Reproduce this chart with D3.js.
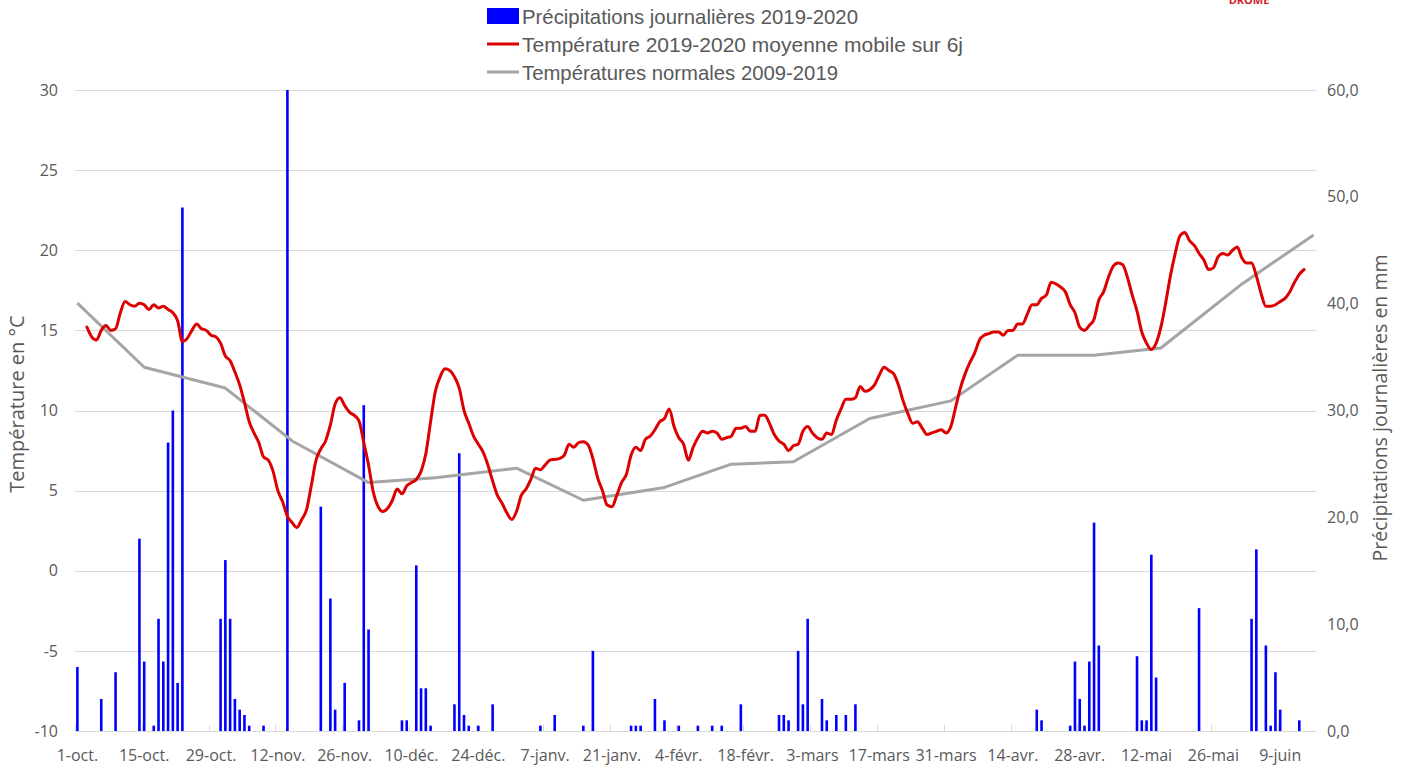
<!DOCTYPE html>
<html>
<head>
<meta charset="utf-8">
<script src="https://cdn.jsdelivr.net/npm/d3@7"></script>
<style>
  body { margin: 0; background: #ffffff; }
  svg text { font-family: "Open Sans", "DejaVu Sans", sans-serif; fill: #595959; }
</style>
</head>
<body>
<svg id="chart" width="1404" height="769"></svg>
<script>
// jours du 1-oct. 2019 au 16-juin 2020 (fin exclue)
var firstDay = "2019-10-01";
var lastDayExcl = "2020-06-17";

// précipitations journalières (mm), un tableau par mois
var rainOct = [6.0,0,0,0,0,3.0,0,0,5.5,0, 0,0,0,18.0,6.5,0,0.5,10.5,6.5,27.0, 30.0,4.5,49.0,0,0,0,0,0,0,0, 10.5];
var rainNov = [16.0,10.5,3.0,2.0,1.5,0.5,0,0,0.5,0, 0,0,0,60.0,0,0,0,0,0,0, 21.0,0,12.4,2.0,0,4.5,0,0,1.0,30.5];
var rainDec = [9.5,0,0,0,0,0,0,1.0,1.0,0, 15.5,4.0,4.0,0.5,0,0,0,0,2.5,26.0, 1.5,0.5,0,0.5,0,0,2.5,0,0,0, 0];
var rainJan = [0,0,0,0,0,0.5,0,0,1.5,0, 0,0,0,0,0.5,0,7.5,0,0,0, 0,0,0,0,0.5,0.5,0.5,0,0,3.0, 0];
var rainFeb = [1.0,0,0,0.5,0,0,0,0.5,0,0, 0.5,0,0.5,0,0,0,2.5,0,0,0, 0,0,0,0,1.5,1.5,1.0,0,7.5];
var rainMar = [2.5,10.5,0,0,3.0,1.0,0,1.5,0,1.5, 0,2.5,0,0,0,0,0,0,0,0, 0,0,0,0,0,0,0,0,0,0, 0];
var rainApr = [0,0,0,0,0,0,0,0,0,0, 0,0,0,0,0,0,0,0,2.0,1.0, 0,0,0,0,0,0.5,6.5,3.0,0.5,6.5];
var rainMay = [19.5,8.0,0,0,0,0,0,0,0,7.0, 1.0,1.0,16.5,5.0,0,0,0,0,0,0, 0,0,11.5,0,0,0,0,0,0,0, 0];
var rainJun = [0,0,10.5,17.0,0,8.0,0.5,5.5,2.0,0, 0,0,1.0,0,0,0];

// température 2019-2020, moyenne mobile sur 6 jours (°C)
var tempOct = [null,null,15.2,14.6,14.4,15.0,15.3,15.0,15.1,16.1, 16.8,16.6,16.5,16.7,16.6,16.3,16.6,16.4,16.5,16.3, 16.1,15.6,14.3,14.5,15.0,15.4,15.1,15.0,14.7,14.6, 14.2];
var tempNov = [13.4,13.1,12.4,11.6,10.5,9.3,8.6,8.0,7.1,6.9, 6.2,5.0,4.3,3.4,3.0,2.7,3.2,3.8,5.3,6.9, 7.6,8.1,9.1,10.4,10.8,10.3,9.9,9.7,9.35,8.0];
var tempDec = [6.6,4.9,4.0,3.7,3.9,4.4,5.1,4.8,5.3,5.5, 5.7,6.2,7.3,9.3,11.2,12.1,12.6,12.5,12.1,11.4, 10.0,9.2,8.4,7.9,7.4,6.6,5.6,4.7,4.2,3.6, 3.2];
var tempJan = [3.7,4.7,5.1,5.7,6.4,6.3,6.6,6.9,6.95,7.0, 7.2,7.9,7.7,8.0,8.05,7.85,7.0,5.8,5.0,4.1, 4.0,4.7,5.5,6.0,7.2,7.7,7.5,8.2,8.4,8.8, 9.3];
var tempFeb = [9.5,10.1,9.0,8.3,7.9,6.9,7.7,8.3,8.7,8.6, 8.7,8.6,8.2,8.3,8.4,8.9,8.9,9.0,8.7,8.7, 9.7,9.7,9.2,8.5,8.1,7.9,7.5,7.8,7.9];
var tempMar = [8.7,9.0,8.6,8.3,8.2,8.6,8.5,9.4,10.1,10.7, 10.7,10.8,11.5,11.2,11.3,11.6,12.2,12.7,12.5,12.3, 11.6,10.6,9.8,9.2,9.3,8.9,8.5,8.6,8.7,8.8, 8.6];
var tempApr = [9.0,10.2,11.4,12.3,13.0,13.6,14.4,14.7,14.8,14.9, 14.9,14.7,15.0,15.0,15.4,15.4,16.0,16.6,16.6,17.0, 17.2,18.0,17.9,17.7,17.4,16.6,16.1,15.2,15.0,15.3];
var tempMay = [15.7,16.9,17.4,18.3,19.0,19.2,19.1,18.3,17.2,16.2, 14.9,14.2,13.8,14.2,15.2,16.7,18.4,19.8,20.9,21.1, 20.6,20.3,19.8,19.4,18.8,18.9,19.6,19.8,19.7,20.0, 20.2];
var tempJun = [19.5,19.2,19.2,18.4,17.3,16.5,16.5,16.6,16.8,17.0, 17.4,18.0,18.5,18.8,null,null];

// températures normales 2009-2019 (°C)
var normalDates = ["2019-10-01","2019-10-15","2019-11-01","2019-11-15","2019-12-01","2019-12-15",
                   "2020-01-01","2020-01-15","2020-02-01","2020-02-15","2020-02-28","2020-03-15",
                   "2020-04-01","2020-04-15","2020-05-01","2020-05-15","2020-06-01","2020-06-16"];
var normalValues = [16.7,12.7,11.4,8.1,5.5,5.8, 6.4,4.4,5.2,6.65,6.8,9.5, 10.6,13.45,13.45,13.9,17.9,20.95];

var tickLabels = ["1-oct.","15-oct.","29-oct.","12-nov.","26-nov.","10-déc.","24-déc.","7-janv.",
                  "21-janv.","4-févr.","18-févr.","3-mars","17-mars","31-mars","14-avr.","28-avr.",
                  "12-mai","26-mai","9-juin"];
var tempTicks = [-10, -5, 0, 5, 10, 15, 20, 25, 30];
var rainTicks = [0, 10, 20, 30, 40, 50, 60];

var legendLabels = ["Précipitations journalières 2019-2020",
                    "Température 2019-2020 moyenne mobile sur 6j",
                    "Températures normales 2009-2019"];

var parseDay = d3.timeParse("%Y-%m-%d");
var days = d3.timeDay.range(parseDay(firstDay), parseDay(lastDayExcl));
var rain = [].concat(rainOct, rainNov, rainDec, rainJan, rainFeb, rainMar, rainApr, rainMay, rainJun);
var temp = [].concat(tempOct, tempNov, tempDec, tempJan, tempFeb, tempMar, tempApr, tempMay, tempJun);

var plotLeft = 75, plotRight = 1316, plotTop = 90, plotBottom = 731;

var svg = d3.select("#chart");

var x = d3.scaleBand()
    .domain(days)
    .range([plotLeft, plotRight])
    .paddingInner(0).paddingOuter(0);
var bw = x.bandwidth();
var xc = function(d) { return x(d) + bw / 2; };

var yTemp = d3.scaleLinear().domain([-10, 30]).range([plotBottom, plotTop]);
var yRain = d3.scaleLinear().domain([0, 60]).range([plotBottom, plotTop]);

// grille
svg.append("g")
    .attr("class", "grid")
    .selectAll("line")
    .data(tempTicks)
    .enter().append("line")
    .attr("x1", plotLeft)
    .attr("x2", plotRight)
    .attr("y1", function(d) { return Math.round(yTemp(d)) + 0.5; })
    .attr("y2", function(d) { return Math.round(yTemp(d)) + 0.5; })
    .style("stroke", "#d9d9d9")
    .style("stroke-width", "1px");

// petites graduations de l'axe des dates
svg.append("g")
    .selectAll("line")
    .data(tickLabels)
    .enter().append("line")
    .attr("x1", function(d, i) { return Math.round(x(days[i * 14])) + 0.5; })
    .attr("x2", function(d, i) { return Math.round(x(days[i * 14])) + 0.5; })
    .attr("y1", plotBottom - 6)
    .attr("y2", plotBottom)
    .style("stroke", "#d9d9d9")
    .style("stroke-width", "1px");

// barres de précipitations
var barW = 2.6;
svg.append("g")
    .attr("class", "bars")
    .selectAll("rect")
    .data(days.map(function(d, i) { return {day: d, value: rain[i]}; })
               .filter(function(d) { return d.value > 0; }))
    .enter().append("rect")
    .attr("x", function(d) { return xc(d.day) - barW / 2; })
    .attr("width", barW)
    .attr("y", function(d) { return yRain(Math.min(d.value, 60)); })
    .attr("height", function(d) { return plotBottom - yRain(Math.min(d.value, 60)); })
    .attr("fill", "#0000ff");

// normales
var normals = normalDates.map(function(s, i) { return {day: parseDay(s), value: normalValues[i]}; });
var normalLine = d3.line()
    .x(function(d) { return xc(d.day); })
    .y(function(d) { return yTemp(d.value); });
svg.append("path")
    .datum(normals)
    .attr("d", normalLine)
    .attr("fill", "none")
    .style("stroke", "#a5a5a5")
    .style("stroke-width", "3px")
    .style("stroke-linejoin", "round");

// température moyenne mobile
var tempLine = d3.line()
    .defined(function(d) { return d.value != null; })
    .x(function(d) { return xc(d.day); })
    .y(function(d) { return yTemp(d.value); })
    .curve(d3.curveMonotoneX);
svg.append("path")
    .datum(days.map(function(d, i) { return {day: d, value: temp[i]}; }))
    .attr("d", tempLine)
    .attr("fill", "none")
    .style("stroke", "#dc0000")
    .style("stroke-width", "3px")
    .style("stroke-linejoin", "round")
    .style("stroke-linecap", "round");

// ligne de base
svg.append("line")
    .attr("x1", plotLeft).attr("x2", plotRight)
    .attr("y1", plotBottom + 0.5).attr("y2", plotBottom + 0.5)
    .style("stroke", "#d9d9d9");

// axes
var axisLeft = d3.axisLeft(yTemp).tickValues(tempTicks).tickSize(0).tickPadding(17)
    .tickFormat(function(d) { return String(d); });
var gl = svg.append("g").attr("transform", "translate(" + plotLeft + ",0)").call(axisLeft);
gl.select(".domain").remove();
gl.attr("font-family", null);
gl.selectAll("text").style("font-size", "16px").style("fill", "#595959");

var axisRight = d3.axisRight(yRain).tickValues(rainTicks).tickSize(0).tickPadding(11)
    .tickFormat(function(d) { return d3.format(".1f")(d).replace(".", ","); });
var gr = svg.append("g").attr("transform", "translate(" + plotRight + ",0)").call(axisRight);
gr.select(".domain").remove();
gr.attr("font-family", null);
gr.selectAll("text").style("font-size", "16px").style("fill", "#595959");

svg.append("g")
    .selectAll("text")
    .data(tickLabels)
    .enter().append("text")
    .attr("x", function(d, i) { return xc(days[i * 14]); })
    .attr("y", 761)
    .attr("text-anchor", "middle")
    .style("font-size", "16px")
    .text(function(d) { return d; });

// titres des axes
svg.append("text")
    .attr("transform", "translate(17,404) rotate(-90)")
    .attr("text-anchor", "middle")
    .attr("dy", "0.35em")
    .style("font-size", "20px")
    .text("Température en °C");

svg.append("text")
    .attr("transform", "translate(1380,408) rotate(-90)")
    .attr("text-anchor", "middle")
    .attr("dy", "0.35em")
    .style("font-size", "19.5px")
    .text("Précipitations journalières en mm");

// légende
var legendWidths = [336, 441, 316];
var lg = svg.append("g").attr("class", "legend");
var rows = lg.selectAll("g")
    .data(legendLabels)
    .enter().append("g")
    .attr("transform", function(d, i) { return "translate(487," + (16 + i * 28) + ")"; });
rows.each(function(d, i) {
    var r = d3.select(this);
    if (i === 0) {
        r.append("rect").attr("x", 0).attr("y", -8).attr("width", 32).attr("height", 16).attr("fill", "#0000ff");
    } else {
        r.append("line").attr("x1", 0).attr("x2", 32).attr("y1", 0).attr("y2", 0)
            .style("stroke", i === 1 ? "#dc0000" : "#a5a5a5").style("stroke-width", "3px");
    }
    r.append("text")
        .attr("x", 35)
        .attr("dy", "0.36em")
        .attr("textLength", legendWidths[i])
        .attr("lengthAdjust", "spacingAndGlyphs")
        .style("font-family", "'Liberation Sans Narrow', 'Liberation Sans', sans-serif")
        .style("font-size", "21px")
        .text(d);
});

// logo coupé en haut à droite
svg.append("text")
    .attr("x", 1249)
    .attr("y", 4)
    .attr("text-anchor", "middle")
    .style("font-size", "11px")
    .style("font-weight", "bold")
    .style("fill", "#d0202a")
    .text("DRÔME");
</script>
</body>
</html>
